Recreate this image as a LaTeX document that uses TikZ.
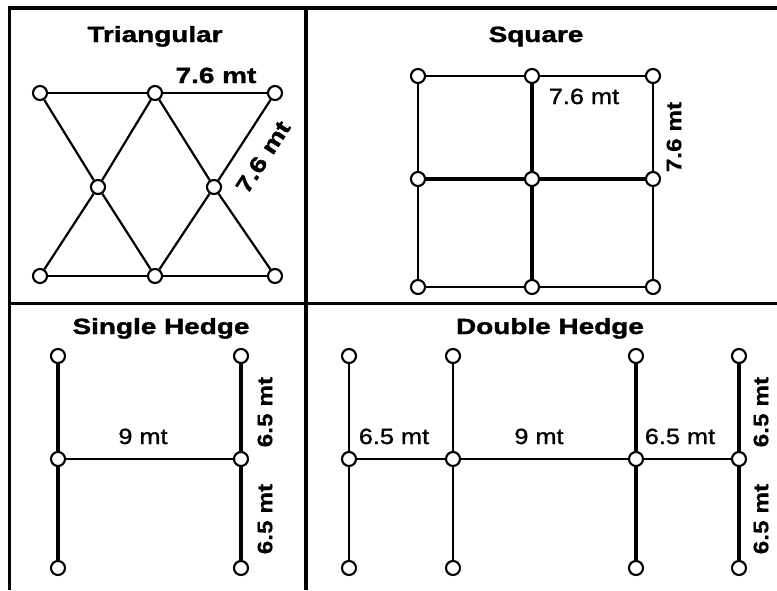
\documentclass[tikz,border=0pt]{standalone}
\usepackage{fontspec}
\setmainfont{Liberation Sans}
\newfontfamily\ttlfont[FakeStretch=1.27,FakeBold=1.5]{Liberation Sans}
\newfontfamily\labfont[FakeStretch=1.15,FakeBold=1.2]{Liberation Sans}
\newfontfamily\rotfont[FakeStretch=1.16,FakeBold=0.6]{Liberation Sans}
\tikzset{
  frame/.style={line width=3.4pt},
  pt/.style={circle, draw, fill=white, line width=2.1pt, inner sep=0pt, minimum size=14pt},
  thinl/.style={line width=1.9pt},
  heavy/.style={line width=3.3pt},
  ttl/.style={font=\ttlfont\bfseries\fontsize{22}{24}\selectfont, inner sep=0pt, anchor=base},
  blab/.style={font=\ttlfont\bfseries\fontsize{22}{24}\selectfont, inner sep=0pt},
  rlab/.style={font=\labfont\fontsize{22}{24}\selectfont, inner sep=0pt},
  vlab/.style={font=\rotfont\bfseries\fontsize{21}{24}\selectfont, inner sep=0pt, rotate=90}
}
\begin{document}
\begin{tikzpicture}[x=1pt, y=-1pt]
\useasboundingbox (0,0) rectangle (777,590);
\fill[white] (0,0) rectangle (777,590);
% frame
\draw[frame] (9.5,590) -- (9.5,8) -- (777,8);
\draw[frame] (306,8) -- (306,590);
\draw[frame] (9.5,303.5) -- (777,303.5);
% titles
\node[ttl] (tt1) at (155,42) {Triangular};
\node[ttl] (tt2) at (536,42) {Square};
\node[ttl] (tt3) at (161,334) {Single Hedge};
\node[ttl] (tt4) at (550,334) {Double Hedge};
% triangular
\node[pt] (t1) at (40,93) {};
\node[pt] (t2) at (155,93) {};
\node[pt] (t3) at (275,93) {};
\node[pt] (t4) at (98,187) {};
\node[pt] (t5) at (214,187) {};
\node[pt] (t6) at (40,276) {};
\node[pt] (t7) at (155,276) {};
\node[pt] (t8) at (275,276) {};
\draw[thinl] (t1)--(t2) (t2)--(t3) (t6)--(t7) (t7)--(t8);
\draw[thinl, line width=2.2pt] (t1)--(t4) (t4)--(t7) (t2)--(t4) (t4)--(t6)
  (t2)--(t5) (t5)--(t8) (t3)--(t5) (t5)--(t7);
\node[blab, anchor=base] (lt1) at (216,83) {7.6 mt};
\node[blab, rotate=57] (lt2) at (263,157) {7.6 mt};
% square
\node[pt] (s1) at (418,76) {};
\node[pt] (s2) at (532,76) {};
\node[pt] (s3) at (653,76) {};
\node[pt] (s4) at (418,179) {};
\node[pt] (s5) at (532,179) {};
\node[pt] (s6) at (653,179) {};
\node[pt] (s7) at (418,287) {};
\node[pt] (s8) at (532,287) {};
\node[pt] (s9) at (653,287) {};
\draw[thinl] (s1)--(s2) (s2)--(s3) (s7)--(s8) (s8)--(s9)
  (s1)--(s4) (s4)--(s7) (s3)--(s6) (s6)--(s9);
\draw[heavy] (s4)--(s5) (s5)--(s6) (s2)--(s5) (s5)--(s8);
\node[rlab, anchor=base] (ls1) at (584,104) {7.6 mt};
\node[vlab] (ls2) at (674,137) {7.6 mt};
% single hedge
\node[pt] (h1) at (58,356) {};
\node[pt] (h2) at (58,459) {};
\node[pt] (h3) at (58,568) {};
\node[pt] (h4) at (241,356) {};
\node[pt] (h5) at (241,459) {};
\node[pt] (h6) at (241,568) {};
\draw[heavy] (h1)--(h2) (h2)--(h3) (h4)--(h5) (h5)--(h6);
\draw[thinl] (h2)--(h5);
\node[rlab, anchor=base] (lh1) at (143,444) {9 mt};
\node[vlab] (lh2) at (265,412) {6.5 mt};
\node[vlab] (lh3) at (265,519) {6.5 mt};
% double hedge
\node[pt] (d1) at (349,356) {};
\node[pt] (d2) at (349,459) {};
\node[pt] (d3) at (349,568) {};
\node[pt] (d4) at (453,356) {};
\node[pt] (d5) at (453,459) {};
\node[pt] (d6) at (453,568) {};
\node[pt] (d7) at (636,356) {};
\node[pt] (d8) at (636,459) {};
\node[pt] (d9) at (636,568) {};
\node[pt] (d10) at (739,356) {};
\node[pt] (d11) at (739,459) {};
\node[pt] (d12) at (739,568) {};
\draw[thinl] (d1)--(d2) (d2)--(d3) (d4)--(d5) (d5)--(d6)
  (d2)--(d5) (d5)--(d8) (d8)--(d11);
\draw[heavy] (d7)--(d8) (d8)--(d9) (d10)--(d11) (d11)--(d12);
\node[rlab, anchor=base] (ld1) at (394,444) {6.5 mt};
\node[rlab, anchor=base] (ld2) at (539,444) {9 mt};
\node[rlab, anchor=base] (ld3) at (680,444) {6.5 mt};
\node[vlab] (ld4) at (761,412) {6.5 mt};
\node[vlab] (ld5) at (761,519) {6.5 mt};
\end{tikzpicture}
\end{document}
